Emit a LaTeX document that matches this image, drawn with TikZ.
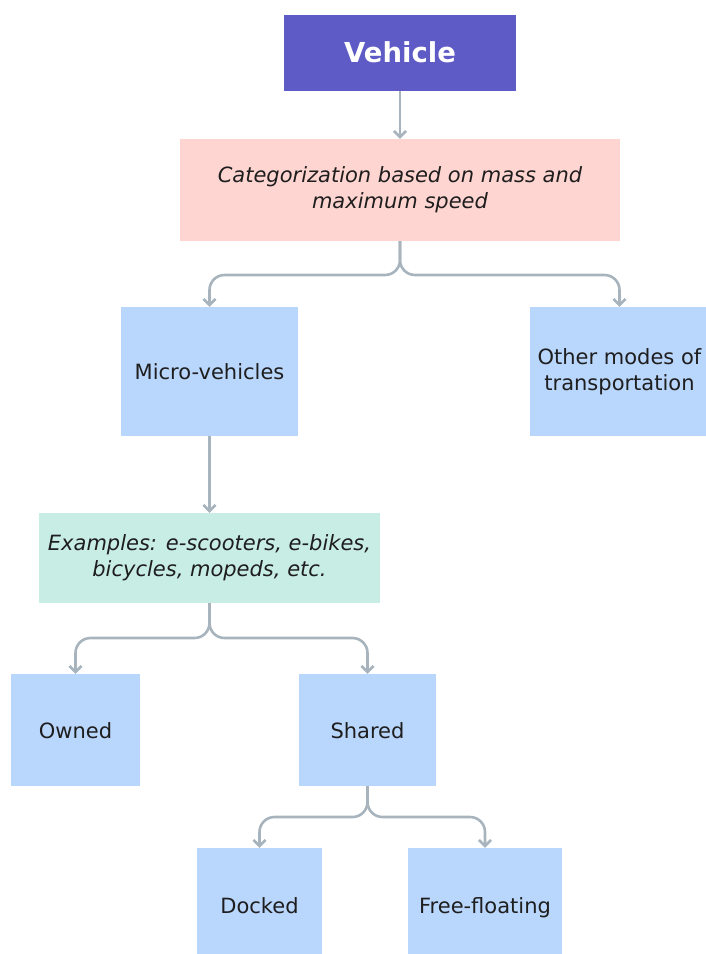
\documentclass[tikz,border=0pt]{standalone}
\usepackage{fontspec}
\setmainfont{DejaVu Sans}
\usetikzlibrary{arrows.meta}
\definecolor{vpurple}{HTML}{5F5BC6}
\definecolor{cpink}{HTML}{FFD5D1}
\definecolor{bblue}{HTML}{B9D6FC}
\definecolor{egreen}{HTML}{C8EDE4}
\definecolor{lgray}{HTML}{A7B4BD}
\definecolor{txt}{HTML}{1E1E1E}
\begin{document}
\begin{tikzpicture}[x=1pt,y=-1pt,
  box/.style={draw=none, align=center, inner sep=0pt, text=txt, text height=20pt, text depth=4pt, font=\fontsize{21}{26}\selectfont},
  multi/.style={text height={}, text depth={}},
  bluebox/.style={box, fill=bblue},
  conn/.style={draw=lgray, line width=2.6pt, rounded corners=15pt, -{Straight Barb[length=6pt,width=12pt,line width=2.6pt]}}]
\useasboundingbox (0,0) rectangle (705,954);
\node[box, fill=vpurple, minimum width=232pt, minimum height=76pt, text=white, text height=20pt, text depth=2pt, font=\fontsize{27.5}{32}\selectfont\bfseries] (vehicle) at (400,53) {Vehicle};
\node[box, multi, fill=cpink, minimum width=440pt, minimum height=102pt, font=\fontsize{21}{26}\selectfont\itshape] (cat) at (400,190) {Categorization based on mass and\\maximum speed};
\node[bluebox, minimum width=177pt, minimum height=129pt] (micro) at (209.5,371.5) {Micro-vehicles};
\node[bluebox, multi, minimum width=179pt, minimum height=129pt] (other) at (619.5,371.5) {Other modes of\\transportation};
\node[box, multi, fill=egreen, minimum width=341pt, minimum height=90pt, font=\fontsize{21}{26}\selectfont\itshape] (ex) at (209.5,558) {Examples: e-scooters, e-bikes,\\bicycles, mopeds, etc.};
\node[bluebox, minimum width=129pt, minimum height=112pt] (owned) at (75.5,730) {Owned};
\node[bluebox, minimum width=137pt, minimum height=112pt] (shared) at (367.5,730) {Shared};
\node[bluebox, minimum width=125pt, minimum height=114pt] (docked) at (259.5,905) {Docked};
\node[bluebox, minimum width=154pt, minimum height=114pt] (free) at (485,905) {Free-floating};
\coordinate (cs) at (400,275);
\coordinate (es) at (209.5,638);
\coordinate (ss) at (367.5,817);
\draw[conn] (vehicle.south) -- (cat.north);
\draw[conn] (cat.south) -- (cs) -| (micro.north);
\draw[conn] (cat.south) -- (cs) -| (other.north);
\draw[conn] (micro.south) -- (ex.north);
\draw[conn] (ex.south) -- (es) -| (owned.north);
\draw[conn] (ex.south) -- (es) -| (shared.north);
\draw[conn] (shared.south) -- (ss) -| (docked.north);
\draw[conn] (shared.south) -- (ss) -| (free.north);
\end{tikzpicture}
\end{document}
